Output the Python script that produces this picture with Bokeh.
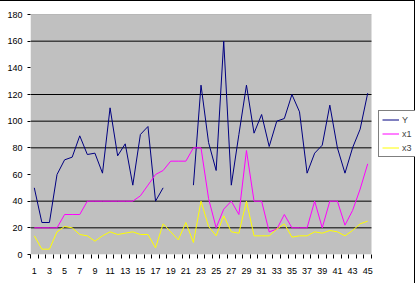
import numpy as np
from bokeh.plotting import figure
from bokeh.models import (ColumnDataSource, Range1d, FixedTicker, Legend, LegendItem,
                          BoxAnnotation, InlineStyleSheet)
from bokeh.embed import file_html
from bokeh.resources import INLINE

# ---- data ----
categories = list(range(1, 46))
x_tick_labels = [str(c) for c in categories if c % 2 == 1]
y_tick_values = [0, 20, 40, 60, 80, 100, 120, 140, 160, 180]
grid_values = [20, 40, 80, 100, 120, 160]
series_names = ["Y", "x1", "x3"]

y_values = [50, 24, 24, 60, 71, 73, 89, 75, 76, 61,
            110, 74, 83, 52, 90, 96, 40, 50, None, None,
            None, 52, 127, 84, 63, 160, 52, 90, 127, 91,
            105, 81, 100, 102, 120, 107, 61, 76, 82, 112,
            80, 61, 80, 94, 121]
x1_values = [20, 20, 20, 20, 30, 30, 30, 40, 40, 40,
             40, 40, 40, 40, 44, 52, 60, 63, 70, 70,
             70, 80, 80, 42, 20, 34, 40, 30, 78, 40,
             40, 17, 19, 30, 20, 20, 20, 40, 20, 40,
             40, 22, 33, 49, 68]
x3_values = [14, 4, 4, 17, 21, 20, 15, 14, 10, 14,
             17, 15, 16, 17, 15, 15, 5, 23, 17, 11,
             24, 9, 40, 21, 14, 29, 17, 16, 40, 14,
             14, 14, 19, 23, 13, 14, 14, 17, 16, 18,
             17, 14, 18, 23, 25]

def arr(v):
    return np.array([np.nan if a is None else a for a in v], dtype=float)

src = ColumnDataSource(dict(x=categories, y=arr(y_values), x1=arr(x1_values), x3=arr(x3_values)))

W, H = 415, 283
left, top, bottom = 30, 14, 29
plot_px = 341.0                      # width of the grey plot area in pixels
x_lo, x_hi = 0.5, len(categories) + 0.5
frame_w = W - left
x_end = x_lo + (x_hi - x_lo) * frame_w / plot_px

p = figure(width=W, height=H, output_backend="svg", toolbar_location=None,
           x_range=Range1d(x_lo, x_end), y_range=Range1d(0, 180),
           min_border_left=left, min_border_right=0, min_border_top=top, min_border_bottom=bottom)
p.stylesheets = [InlineStyleSheet(css=":host { box-shadow: inset -1px 1px 0 0 black; background: white; }")]
p.background_fill_alpha = 0
p.border_fill_alpha = 0
p.outline_line_color = None

# grey plot area
p.add_layout(BoxAnnotation(left=x_lo, right=x_hi, bottom=0, top=180,
                           fill_color="#C0C0C0", fill_alpha=1, line_color=None, level="underlay"))

font = "Liberation Sans"
# x axis
p.xaxis.ticker = FixedTicker(ticks=[int(t) for t in x_tick_labels],
                             minor_ticks=[c - 0.5 for c in categories] + [x_hi])
p.xaxis.major_tick_line_color = None
p.xaxis.major_tick_out = 0
p.xaxis.major_tick_in = 0
p.xaxis.minor_tick_line_color = "black"
p.xaxis.minor_tick_out = 4
p.xaxis.minor_tick_in = 0
p.xaxis.major_label_standoff = 9
p.xaxis.axis_line_color = None
p.xaxis.major_label_text_font = font
p.xaxis.major_label_text_font_size = "9px"
p.xaxis.major_label_text_color = "black"

# y axis
p.yaxis.ticker = FixedTicker(ticks=y_tick_values)
p.yaxis.major_tick_line_color = "black"
p.yaxis.major_tick_out = 3
p.yaxis.major_tick_in = 0
p.yaxis.minor_tick_line_color = None
p.yaxis.major_label_standoff = 5
p.yaxis.axis_line_color = None
p.yaxis.major_label_text_font = font
p.yaxis.major_label_text_font_size = "9px"
p.yaxis.major_label_text_color = "black"

p.xgrid.grid_line_color = None
p.ygrid.grid_line_color = None

# horizontal gridlines across the grey area only, and its grey top edge
p.segment(x0=[x_lo] * len(grid_values), x1=[x_hi] * len(grid_values),
          y0=grid_values, y1=grid_values, line_color="black", line_width=1)
p.segment(x0=[x_lo], x1=[x_hi], y0=[180], y1=[180], line_color="#808080", line_width=1)

r1 = p.line("x", "y", source=src, line_color="#000080", line_width=1)
r2 = p.line("x", "x1", source=src, line_color="#FF00FF", line_width=1)
r3 = p.line("x", "x3", source=src, line_color="#FFFF00", line_width=1)

legend = Legend(items=[LegendItem(label=series_names[0], renderers=[r1]),
                       LegendItem(label=series_names[1], renderers=[r2]),
                       LegendItem(label=series_names[2], renderers=[r3])],
                location=(348, 97))
legend.padding = 3
legend.margin = 0
legend.spacing = 3
legend.glyph_width = 17
legend.glyph_height = 11
legend.label_height = 11
legend.label_width = 8
legend.label_standoff = 3
legend.label_text_font = font
legend.label_text_font_size = "9px"
legend.border_line_color = "black"
legend.border_line_width = 1
legend.background_fill_color = "white"
legend.background_fill_alpha = 1
p.add_layout(legend, "center")

open("out.html", "w").write(file_html(p, INLINE))
